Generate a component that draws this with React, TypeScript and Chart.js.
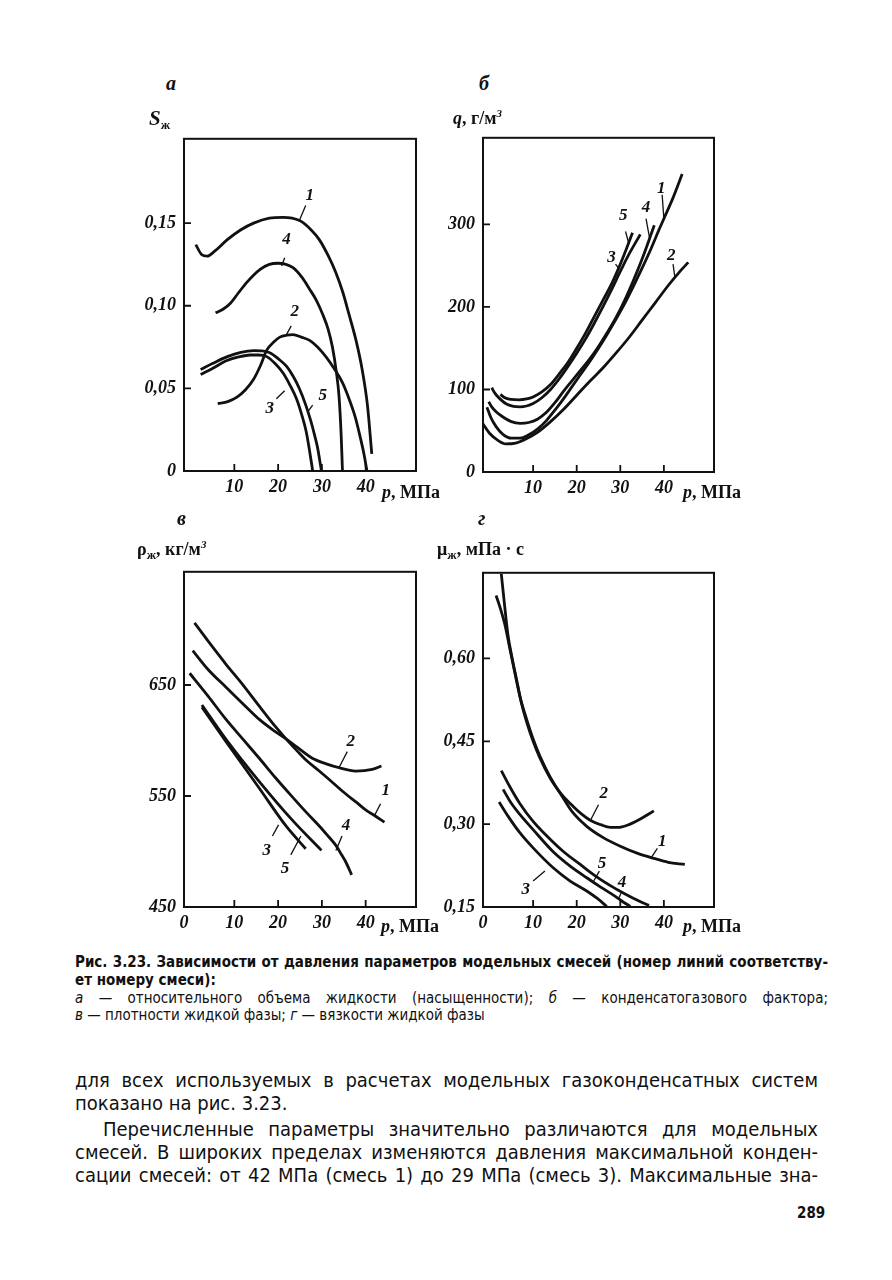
import React, { useEffect, useRef } from "react";
import { Chart, registerables } from "chart.js";

Chart.register(...registerables);

type Pt = [number, number];
type Note = { t: string; at: Pt; from: Pt; to: Pt };

// ---------- shared pressure axis (p, MPa)
const pressureTicks = [10, 20, 30, 40];
const P_MIN = -1.5;
const P_MAX = 51.5;

// ---------- panel а : liquid saturation S_ж
const satTicks = [0, 0.05, 0.1, 0.15];
const sat1: Pt[] = [[1.2, 0.137], [2.5, 0.131], [3.8, 0.130], [5.5, 0.133], [8.4, 0.140], [11.5, 0.146], [14.4, 0.150], [18, 0.153], [21.1, 0.1535], [24.9, 0.1515], [27.5, 0.146], [29.4, 0.140], [31.5, 0.130], [33.2, 0.120], [34.8, 0.108], [36.2, 0.0947], [37.8, 0.079], [39.2, 0.0614], [40.4, 0.040], [41.4, 0.0104]];
const sat2: Pt[] = [[6.2, 0.0408], [8.5, 0.042], [10.6, 0.0447], [12.5, 0.049], [14.4, 0.0555], [16, 0.064], [17.4, 0.0731], [19, 0.078], [20.4, 0.081], [22, 0.0822], [23.4, 0.0825], [25.3, 0.081], [27.2, 0.079], [29, 0.075], [30.9, 0.0692], [32.8, 0.062], [34.7, 0.0535], [36.3, 0.043], [37.7, 0.0319], [38.8, 0.020], [39.6, 0.0104], [40.3, 0]];
const sat3: Pt[] = [[2.3, 0.0584], [5, 0.062], [8, 0.0665], [11, 0.069], [13.6, 0.0702], [15.5, 0.0702], [17.4, 0.0692], [19.3, 0.065], [21.1, 0.0594], [22.7, 0.052], [24.2, 0.0437], [25.4, 0.034], [26.4, 0.0241], [27.2, 0.012], [27.9, 0]];
const sat4: Pt[] = [[5.7, 0.0957], [7.5, 0.098], [9.1, 0.1015], [11, 0.108], [12.9, 0.1143], [15.9, 0.122], [18, 0.125], [20, 0.1257], [21.8, 0.125], [23.4, 0.123], [25.5, 0.117], [27.2, 0.110], [28.8, 0.103], [30.2, 0.0947], [31.4, 0.086], [32.4, 0.0751], [33.3, 0.060], [33.9, 0.0457], [34.4, 0.022], [34.7, 0]];
const sat5: Pt[] = [[2.3, 0.0614], [5, 0.065], [8.4, 0.0692], [11.5, 0.0718], [14.4, 0.0728], [16.3, 0.0727], [18.1, 0.0716], [20, 0.068], [21.9, 0.0634], [23.5, 0.057], [24.9, 0.0496], [26.3, 0.040], [27.5, 0.030], [28.3, 0.022], [29.0, 0.0143], [29.9, 0]];
const satLabels: Note[] = [
  { t: "1", at: [27.2, 0.1665], from: [24.9, 0.1518], to: [26.3, 0.1606] },
  { t: "4", at: [21.9, 0.1398], from: [20.8, 0.1241], to: [21.5, 0.129] },
  { t: "2", at: [23.8, 0.0966], from: [21.9, 0.0825], to: [23.0, 0.0878] },
  { t: "3", at: [18.1, 0.0378], from: [19.6, 0.0437], to: [21.5, 0.0486] },
  { t: "5", at: [30.2, 0.0457], from: [26.8, 0.0359], to: [27.9, 0.0398] },
];

// ---------- panel б : condensate-gas factor q
const qTicks = [0, 100, 200, 300];
const q1: Pt[] = [[-0.6, 78.5], [0.3, 66], [1.5, 55], [3, 46], [5, 41], [7, 41], [9, 45], [11, 52], [13, 62], [15, 75], [17, 89], [19, 104], [21, 119], [23, 134], [25, 150], [27, 167], [29, 185], [31, 204], [33, 225], [35, 247], [37, 270], [39, 295], [40, 307], [42, 331], [44.2, 361]];
const q2: Pt[] = [[-1.6, 59], [0, 47], [2, 38], [3.7, 34], [6, 35], [8, 39], [11, 48], [14, 61], [17, 76], [20, 93], [23, 110], [26, 126], [29, 144], [32, 163], [35, 184], [38, 205], [41, 226], [43.5, 242], [45.6, 254]];
const q3: Pt[] = [[2.5, 94], [3.5, 90], [5, 88], [6.8, 87.5], [8.5, 88.5], [10, 91], [12, 97], [14, 106], [16, 119], [18, 133], [20, 150], [22, 168], [24, 188], [26, 208], [28, 228], [29.7, 248], [31.3, 269], [32.8, 290]];
const q4: Pt[] = [[-0.2, 85], [0.5, 79], [1.5, 73], [3, 67], [5, 61], [7, 59], [9, 60], [11, 64], [13, 72], [15, 84], [17, 98], [19, 111], [21, 124], [23, 137], [25, 152], [27, 169], [29, 187], [31, 208], [33, 232], [35, 258], [37.8, 299]];
const q5: Pt[] = [[0.5, 102], [1.3, 95], [2.5, 88], [4, 82], [5.5, 79.5], [7, 79], [8.5, 80], [10, 83], [12, 90], [14, 100], [16, 113], [18, 128], [20, 144], [22, 161], [24, 180], [26, 200], [28, 221], [30, 243], [32, 264], [34.6, 288]];
const qLabels: Note[] = [
  { t: "1", at: [39.4, 344], from: [39.6, 336], to: [40, 307] },
  { t: "4", at: [35.9, 321], from: [35.9, 307], to: [36.7, 284] },
  { t: "5", at: [30.7, 311], from: [31.2, 291.5], to: [32, 276] },
  { t: "3", at: [28, 260], from: [28.9, 252], to: [29.7, 246.5] },
  { t: "2", at: [41.7, 262], from: [42.1, 252], to: [42.5, 237] },
];

// ---------- panel в : liquid density ρ_ж
const rhoTicks = [450, 550, 650];
const rho1: Pt[] = [[0.9, 706], [4.5, 687], [8.1, 668.7], [12, 650], [15.7, 631], [19.5, 612], [21.8, 601.5], [24.5, 590], [26.5, 582], [29.4, 572.5], [32.5, 562], [35.4, 552], [38, 544], [40, 537.5], [42.2, 532], [44.3, 526.5]];
const rho2: Pt[] = [[0.5, 681], [4, 664], [8.1, 648], [12, 633], [15.7, 619], [19, 609], [21.8, 601.5], [24.5, 593.5], [27.8, 584], [31, 579], [33.9, 575.5], [37.7, 572.5], [41.5, 574], [43.6, 577]];
const rho3: Pt[] = [[2.6, 630], [8.1, 599], [15.7, 557], [21.8, 523], [26.3, 502.5]];
const rho4: Pt[] = [[-0.2, 660.6], [4, 640], [8.1, 619], [12, 601], [15.7, 584], [19.5, 566], [23.3, 549], [26.5, 535], [29.4, 523], [31.5, 513.5], [33.2, 505.5], [34.5, 497], [35.4, 491], [36.8, 479]];
const rho5: Pt[] = [[2.6, 632], [8.1, 601], [15.7, 563], [23.3, 528], [29.9, 501]];
const rhoLabels: Note[] = [
  { t: "2", at: [36.6, 598.7], from: [33.9, 575.5], to: [35.8, 590] },
  { t: "1", at: [44.6, 555], from: [42.1, 533], to: [43.4, 543] },
  { t: "4", at: [35.5, 523], from: [33.2, 501], to: [34.6, 514] },
  { t: "3", at: [17.4, 501], from: [18.7, 514], to: [20.1, 524] },
  { t: "5", at: [21.6, 485], from: [22.9, 497], to: [25.2, 514] },
];

// ---------- panel г : liquid viscosity μ_ж
const muTicks = [0.15, 0.3, 0.45, 0.6];
const mu1: Pt[] = [[2.7, 0.753], [3.4, 0.70], [4.2, 0.644], [5.2, 0.60], [6.2, 0.562], [7.3, 0.52], [8.5, 0.485], [10, 0.45], [11.5, 0.421], [13.8, 0.385], [16.2, 0.356], [19, 0.322], [22.3, 0.296], [26, 0.276], [30, 0.260], [34, 0.247], [37.7, 0.238], [41, 0.231], [44.8, 0.227]];
const mu2: Pt[] = [[1.5, 0.714], [2.5, 0.69], [3.5, 0.662], [4.6, 0.62], [5.8, 0.574], [7, 0.53], [8.5, 0.49], [10, 0.454], [11.5, 0.424], [13.8, 0.387], [16.2, 0.357], [19.2, 0.332], [21, 0.319], [23.1, 0.307], [25.5, 0.299], [27.7, 0.294], [29.5, 0.294], [31.6, 0.298], [34.5, 0.309], [37.7, 0.324]];
const mu3: Pt[] = [[2.2, 0.340], [4.2, 0.315], [6.9, 0.285], [10, 0.257], [14.6, 0.221], [18.5, 0.197], [22.3, 0.179], [24.8, 0.165], [26.9, 0.151]];
const mu4: Pt[] = [[2.7, 0.397], [4.5, 0.37], [6.9, 0.338], [10, 0.305], [13.1, 0.279], [17, 0.25], [20.8, 0.227], [24.5, 0.205], [28.5, 0.185], [31, 0.174], [33.2, 0.165], [35, 0.158], [36.6, 0.153]];
const mu5: Pt[] = [[3.1, 0.363], [4.8, 0.34], [6.9, 0.318], [10, 0.29], [14.6, 0.25], [18.5, 0.224], [22.3, 0.203], [25.5, 0.186], [28.5, 0.171], [30.5, 0.16], [32.3, 0.151]];
const muLabels: Note[] = [
  { t: "2", at: [26.2, 0.356], from: [23.1, 0.306], to: [25, 0.335] },
  { t: "1", at: [39.6, 0.268], from: [37, 0.238], to: [38.5, 0.256] },
  { t: "5", at: [25.8, 0.229], from: [23.9, 0.197], to: [25.2, 0.215] },
  { t: "4", at: [30.4, 0.194], from: [29.6, 0.165], to: [30.4, 0.179] },
  { t: "3", at: [8.3, 0.182], from: [10, 0.197], to: [12.7, 0.215] },
];

// ---------- layout constants
const AX_W = 72;
const AX_H = 40;
const PAD = 10;
const INK = "#111";
const SERIF = '"Liberation Serif", "Times New Roman", serif';
const NARROW = '"Liberation Sans Narrow", "Arial Narrow", "DejaVu Sans Condensed", "Liberation Sans", sans-serif';

type Box = { left: number; top: number; right: number; bottom: number };
interface PanelSpec {
  box: Box;
  yMin: number;
  yMax: number;
  yTicks: number[];
  yFmt: (v: number) => string;
  zeroLabel: boolean;
  series: Pt[][];
  notes: Note[];
}

const comma = (v: number) => v.toFixed(2).replace(".", ",");

const panels: PanelSpec[] = [
  { box: { left: 184, top: 130, right: 416, bottom: 471 }, yMin: 0, yMax: 0.201, yTicks: satTicks, yFmt: (v) => (v === 0 ? "0" : comma(v)), zeroLabel: false, series: [sat1, sat2, sat3, sat4, sat5], notes: satLabels },
  { box: { left: 483, top: 129, right: 714, bottom: 472 }, yMin: 0, yMax: 405, yTicks: qTicks, yFmt: (v) => String(v), zeroLabel: false, series: [q1, q2, q3, q4, q5], notes: qLabels },
  { box: { left: 184, top: 563, right: 416, bottom: 907 }, yMin: 450, yMax: 752, yTicks: rhoTicks, yFmt: (v) => String(v), zeroLabel: true, series: [rho1, rho2, rho3, rho4, rho5], notes: rhoLabels },
  { box: { left: 483, top: 564, right: 714, bottom: 907 }, yMin: 0.15, yMax: 0.755, yTicks: muTicks, yFmt: comma, zeroLabel: true, series: [mu1, mu2, mu3, mu4, mu5], notes: muLabels },
];

const framePlugin = {
  id: "frame",
  afterDatasetsDraw(chart: any) {
    const { ctx, chartArea: a, scales } = chart;
    const sx = scales.x;
    const sy = scales.y;
    const spec: PanelSpec = chart.options.plugins.frame.spec;
    ctx.save();
    ctx.strokeStyle = INK;
    ctx.lineWidth = 2;
    ctx.strokeRect(a.left, a.top, a.right - a.left, a.bottom - a.top);
    ctx.lineWidth = 1.8;
    ctx.beginPath();
    sx.ticks.forEach((t: any) => {
      if (t.value <= P_MIN) return;
      const px = sx.getPixelForValue(t.value);
      ctx.moveTo(px, a.bottom);
      ctx.lineTo(px, a.bottom - 7);
    });
    sy.ticks.forEach((t: any) => {
      if (t.value <= spec.yMin) return;
      const py = sy.getPixelForValue(t.value);
      ctx.moveTo(a.left, py);
      ctx.lineTo(a.left + 7, py);
    });
    ctx.stroke();
    // curve numbers with leader lines
    ctx.lineWidth = 1.3;
    ctx.fillStyle = INK;
    ctx.font = `italic bold 17px ${SERIF}`;
    ctx.textAlign = "center";
    ctx.textBaseline = "middle";
    spec.notes.forEach((n) => {
      ctx.beginPath();
      ctx.moveTo(sx.getPixelForValue(n.from[0]), sy.getPixelForValue(n.from[1]));
      ctx.lineTo(sx.getPixelForValue(n.to[0]), sy.getPixelForValue(n.to[1]));
      ctx.stroke();
      ctx.fillText(n.t, sx.getPixelForValue(n.at[0]), sy.getPixelForValue(n.at[1]));
    });
    ctx.restore();
  },
};

function PanelChart({ spec }: { spec: PanelSpec }) {
  const ref = useRef<HTMLCanvasElement>(null);
  const { box } = spec;
  const w = box.right - box.left + AX_W + PAD;
  const h = box.bottom - box.top + PAD + AX_H;
  useEffect(() => {
    const canvas = ref.current;
    if (!canvas) return;
    const tickFont = { family: SERIF, size: 18, style: "italic" as const, weight: "bold" as const };
    const xVals = spec.zeroLabel ? [P_MIN, ...pressureTicks] : pressureTicks;
    const chart = new Chart(canvas, {
      type: "line",
      data: {
        datasets: spec.series.map((s) => ({
          data: s.map(([x, y]) => ({ x, y })),
          borderColor: INK,
          borderWidth: 2.8,
          pointRadius: 0,
          fill: false,
          cubicInterpolationMode: "monotone" as const,
        })),
      },
      options: {
        animation: false,
        responsive: false,
        maintainAspectRatio: false,
        devicePixelRatio: 1,
        layout: { padding: { top: PAD, right: PAD, left: 0, bottom: 0 } },
        events: [],
        plugins: {
          legend: { display: false },
          tooltip: { enabled: false },
          // @ts-ignore
          frame: { spec },
        },
        scales: {
          x: {
            type: "linear",
            min: P_MIN,
            max: P_MAX,
            grid: { display: false, drawTicks: false },
            border: { display: false },
            afterBuildTicks: (s: any) => {
              s.ticks = xVals.map((v) => ({ value: v }));
            },
            afterFit: (s: any) => {
              s.height = AX_H;
            },
            ticks: {
              color: INK,
              font: tickFont,
              padding: 6,
              maxRotation: 0,
              autoSkip: false,
              callback: (v: any) => (v === P_MIN ? "0" : String(v)),
            },
          },
          y: {
            type: "linear",
            min: spec.yMin,
            max: spec.yMax,
            grid: { display: false, drawTicks: false },
            border: { display: false },
            afterBuildTicks: (s: any) => {
              s.ticks = spec.yTicks.map((v) => ({ value: v }));
            },
            afterFit: (s: any) => {
              s.width = AX_W;
            },
            ticks: {
              color: INK,
              font: tickFont,
              padding: 8,
              autoSkip: false,
              callback: (v: any) => spec.yFmt(Number(v)),
            },
          },
        },
      },
      plugins: [framePlugin],
    });
    return () => chart.destroy();
  }, [spec]);
  return (
    <canvas
      ref={ref}
      width={w}
      height={h}
      style={{ position: "absolute", left: box.left - AX_W, top: box.top - PAD, width: w, height: h }}
    />
  );
}

function T({ x, y, children, style }: { x: number; y: number; children: React.ReactNode; style?: React.CSSProperties }) {
  return (
    <div
      style={{
        position: "absolute",
        left: x,
        top: y,
        transform: "translateY(-50%)",
        lineHeight: 1,
        whiteSpace: "nowrap",
        color: INK,
        ...style,
      }}
    >
      {children}
    </div>
  );
}

function Line({ y, left, width, justify, children, style }: { y: number; left: number; width: number; justify: boolean; children: React.ReactNode; style?: React.CSSProperties }) {
  return (
    <div
      style={{
        position: "absolute",
        left,
        top: y,
        width,
        transform: "translateY(-50%)",
        lineHeight: 1.1,
        whiteSpace: "nowrap",
        textAlign: justify ? "justify" : "left",
        textAlignLast: justify ? "justify" : "left",
        color: INK,
        ...style,
      }}
    >
      {children}
    </div>
  );
}

const bi: React.CSSProperties = { fontFamily: SERIF, fontWeight: "bold", fontStyle: "italic" };
const bs: React.CSSProperties = { fontFamily: SERIF, fontWeight: "bold", fontSize: 18 };

export default function App() {
  const cap: React.CSSProperties = { fontFamily: NARROW, fontSize: 15 };
  const body: React.CSSProperties = { fontFamily: NARROW, fontSize: 20 };
  return (
    <div style={{ position: "absolute", left: 0, top: 0, width: 892, height: 1280, background: "#fff", overflow: "hidden" }}>
      {panels.map((p, i) => (
        <PanelChart key={i} spec={p} />
      ))}

      {/* panel letters */}
      <T x={166} y={83} style={{ ...bi, fontSize: 20 }}>а</T>
      <T x={479} y={83} style={{ ...bi, fontSize: 20 }}>б</T>
      <T x={177} y={518} style={{ ...bi, fontSize: 20 }}>в</T>
      <T x={478} y={518} style={{ ...bi, fontSize: 20 }}>г</T>

      {/* axis titles */}
      <T x={149} y={118} style={bs}>
        <span style={{ fontStyle: "italic", fontSize: 21 }}>S</span>
        <span style={{ fontSize: 13, position: "relative", top: 4 }}>ж</span>
      </T>
      <T x={453} y={117} style={bs}>
        <span style={{ fontStyle: "italic" }}>q</span>, г/м<sup style={{ fontSize: 11, fontStyle: "italic" }}>3</sup>
      </T>
      <T x={137} y={548} style={bs}>
        ρ<span style={{ fontSize: 13, position: "relative", top: 4 }}>ж</span>, кг/м<sup style={{ fontSize: 11, fontStyle: "italic" }}>3</sup>
      </T>
      <T x={437} y={549} style={bs}>
        μ<span style={{ fontSize: 13, position: "relative", top: 4 }}>ж</span>, мПа · с
      </T>
      <T x={382} y={492} style={bs}><i>p</i>, МПа</T>
      <T x={683} y={492} style={bs}><i>p</i>, МПа</T>
      <T x={381} y={926} style={bs}><i>p</i>, МПа</T>
      <T x={683} y={926} style={bs}><i>p</i>, МПа</T>

      {/* caption */}
      <Line y={962} left={75} width={753} justify style={{ ...cap, fontWeight: "bold" }}>
        Рис. 3.23. Зависимости от давления параметров модельных смесей (номер линий соответству-
      </Line>
      <Line y={980} left={75} width={753} justify={false} style={{ ...cap, fontWeight: "bold" }}>
        ет номеру смеси):
      </Line>
      <Line y={998} left={75} width={753} justify style={cap}>
        <i>а</i> — относительного объема жидкости (насыщенности); <i>б</i> — конденсатогазового фактора;
      </Line>
      <Line y={1015} left={75} width={753} justify={false} style={cap}>
        <i>в</i> — плотности жидкой фазы; <i>г</i> — вязкости жидкой фазы
      </Line>

      {/* body text */}
      <Line y={1080} left={75} width={743} justify style={body}>
        для всех используемых в расчетах модельных газоконденсатных систем
      </Line>
      <Line y={1103} left={75} width={743} justify={false} style={body}>
        показано на рис. 3.23.
      </Line>
      <Line y={1129} left={103} width={715} justify style={body}>
        Перечисленные параметры значительно различаются для модельных
      </Line>
      <Line y={1152} left={75} width={743} justify style={body}>
        смесей. В широких пределах изменяются давления максимальной конден-
      </Line>
      <Line y={1175} left={75} width={743} justify style={body}>
        сации смесей: от 42 МПа (смесь 1) до 29 МПа (смесь 3). Максимальные зна-
      </Line>
      <T x={797} y={1213} style={{ fontFamily: NARROW, fontWeight: "bold", fontSize: 15 }}>289</T>
    </div>
  );
}
